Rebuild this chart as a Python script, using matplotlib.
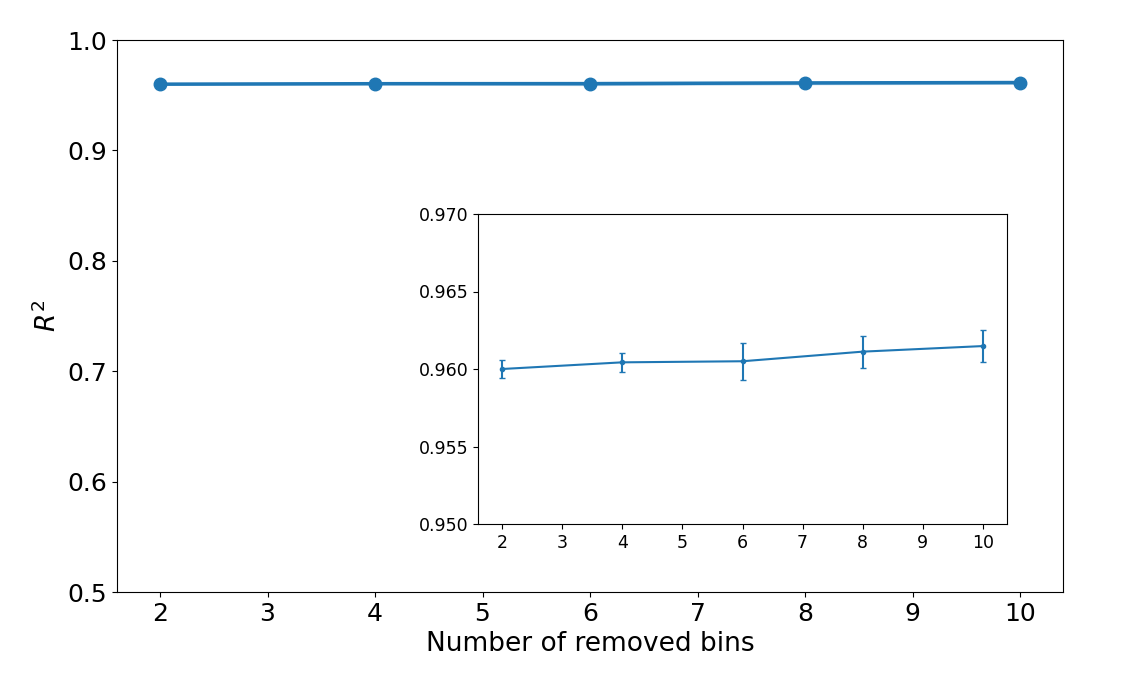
import matplotlib
matplotlib.use('Agg')
import matplotlib.pyplot as plt
import numpy as np

bins=[2,4,6,8,10]
r2=[0.9600,0.96043,0.9605,0.96112,0.96148]
r2_err=[0.0006,0.0006,0.0012,0.00103,0.00104]

r2=np.array(r2)
r2_err=np.array(r2_err)

fig=plt.figure(figsize=(11.47,6.97),dpi=100)
ax=fig.add_axes([117/1147,1-592/697,(1063-117)/1147,(592-40)/697])
ax.plot(bins,r2,'o-',color='tab:blue',lw=2.5,ms=9)
ax.fill_between(bins,r2-r2_err,r2+r2_err,color='tab:blue',alpha=0.3)
ax.set_ylim(0.5,1.0)
ax.set_xlabel('Number of removed bins',fontsize=19)
ax.set_ylabel('$R^2$',fontsize=19)
ax.tick_params(labelsize=18)

ins=fig.add_axes([478/1147,1-524/697,(1007-478)/1147,(524-214)/697])
ins.errorbar(bins,r2,yerr=r2_err,fmt='.-',color='tab:blue',capsize=2)
ins.set_ylim(0.95,0.97)
ins.set_yticks([0.950,0.955,0.960,0.965,0.970])
ins.set_yticklabels(['0.950','0.955','0.960','0.965','0.970'])
ins.tick_params(labelsize=12.5)

plt.savefig('out.png')
